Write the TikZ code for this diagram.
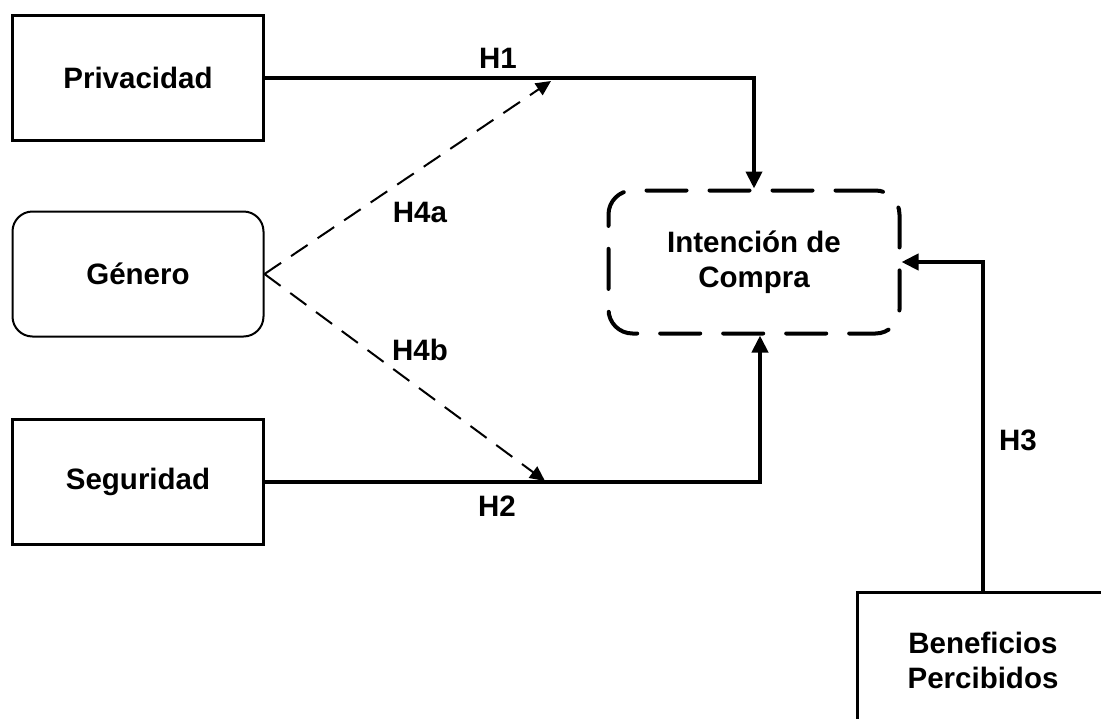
\documentclass[tikz,border=0pt]{standalone}
\usepackage{fontspec}
\setmainfont{Liberation Sans}
\usetikzlibrary{arrows.meta, positioning, calc}
\tikzset{
  % Constructs of the model
  construct/.style={
    rectangle, draw, line width=3pt, minimum width=251pt, minimum height=125pt,
    align=center, font=\bfseries\fontsize{29.5}{35}\selectfont
  },
  moderator/.style={construct, rounded corners=20pt, line width=2pt},
  outcome/.style={
    construct, rounded corners=24pt, line width=4pt, line cap=round,
    dash pattern=on 40pt off 23pt, minimum width=291pt, minimum height=143pt
  },
  % Hypothesis arrows
  patharrow/.style={-{Triangle[length=17pt, width=16pt]}, line width=4pt},
  modarrow/.style={-{Triangle[length=15pt, width=14pt]}, line width=2pt, dash pattern=on 20pt off 12pt},
  hlabel/.style={font=\bfseries\fontsize{29.5}{35}\selectfont}
}
\begin{document}
\begin{tikzpicture}[x=1pt, y=-1pt]
  \useasboundingbox (0,0) rectangle (1101,718);

  % Antecedents
  \node[construct] (priv) at (138,78) {Privacidad};
  \node[moderator] (gen) at (138,274) {Género};
  \node[construct] (segu) at (138,482) {Seguridad};

  % Outcome
  \node[outcome] (intent) at (754,262) {Intención de\\Compra};
  \node[construct, minimum height=136pt] (benef) at (983,660) {Beneficios\\Percibidos};

  % Moderation targets
  \coordinate (modA) at (551,81);
  \coordinate (modB) at (545,481);

  % Arrows
  \draw[patharrow] (priv.east) -| (intent.north);
  \draw[patharrow] (segu.east) -| ([xshift=6pt]intent.south);
  \draw[patharrow] (benef.north) |- (intent.east);
  \draw[modarrow] (gen.east) -- (modA);
  \draw[modarrow] (gen.east) -- (modB);

  % Hypothesis labels
  \node[hlabel] (h1) at (498,58) {H1};
  \node[hlabel] (h2) at (497,506) {H2};
  \node[hlabel] (h3) at (1018,440) {H3};
  \node[hlabel] (h4a) at (420,212) {H4a};
  \node[hlabel] (h4b) at (420,350) {H4b};
\end{tikzpicture}
\end{document}
